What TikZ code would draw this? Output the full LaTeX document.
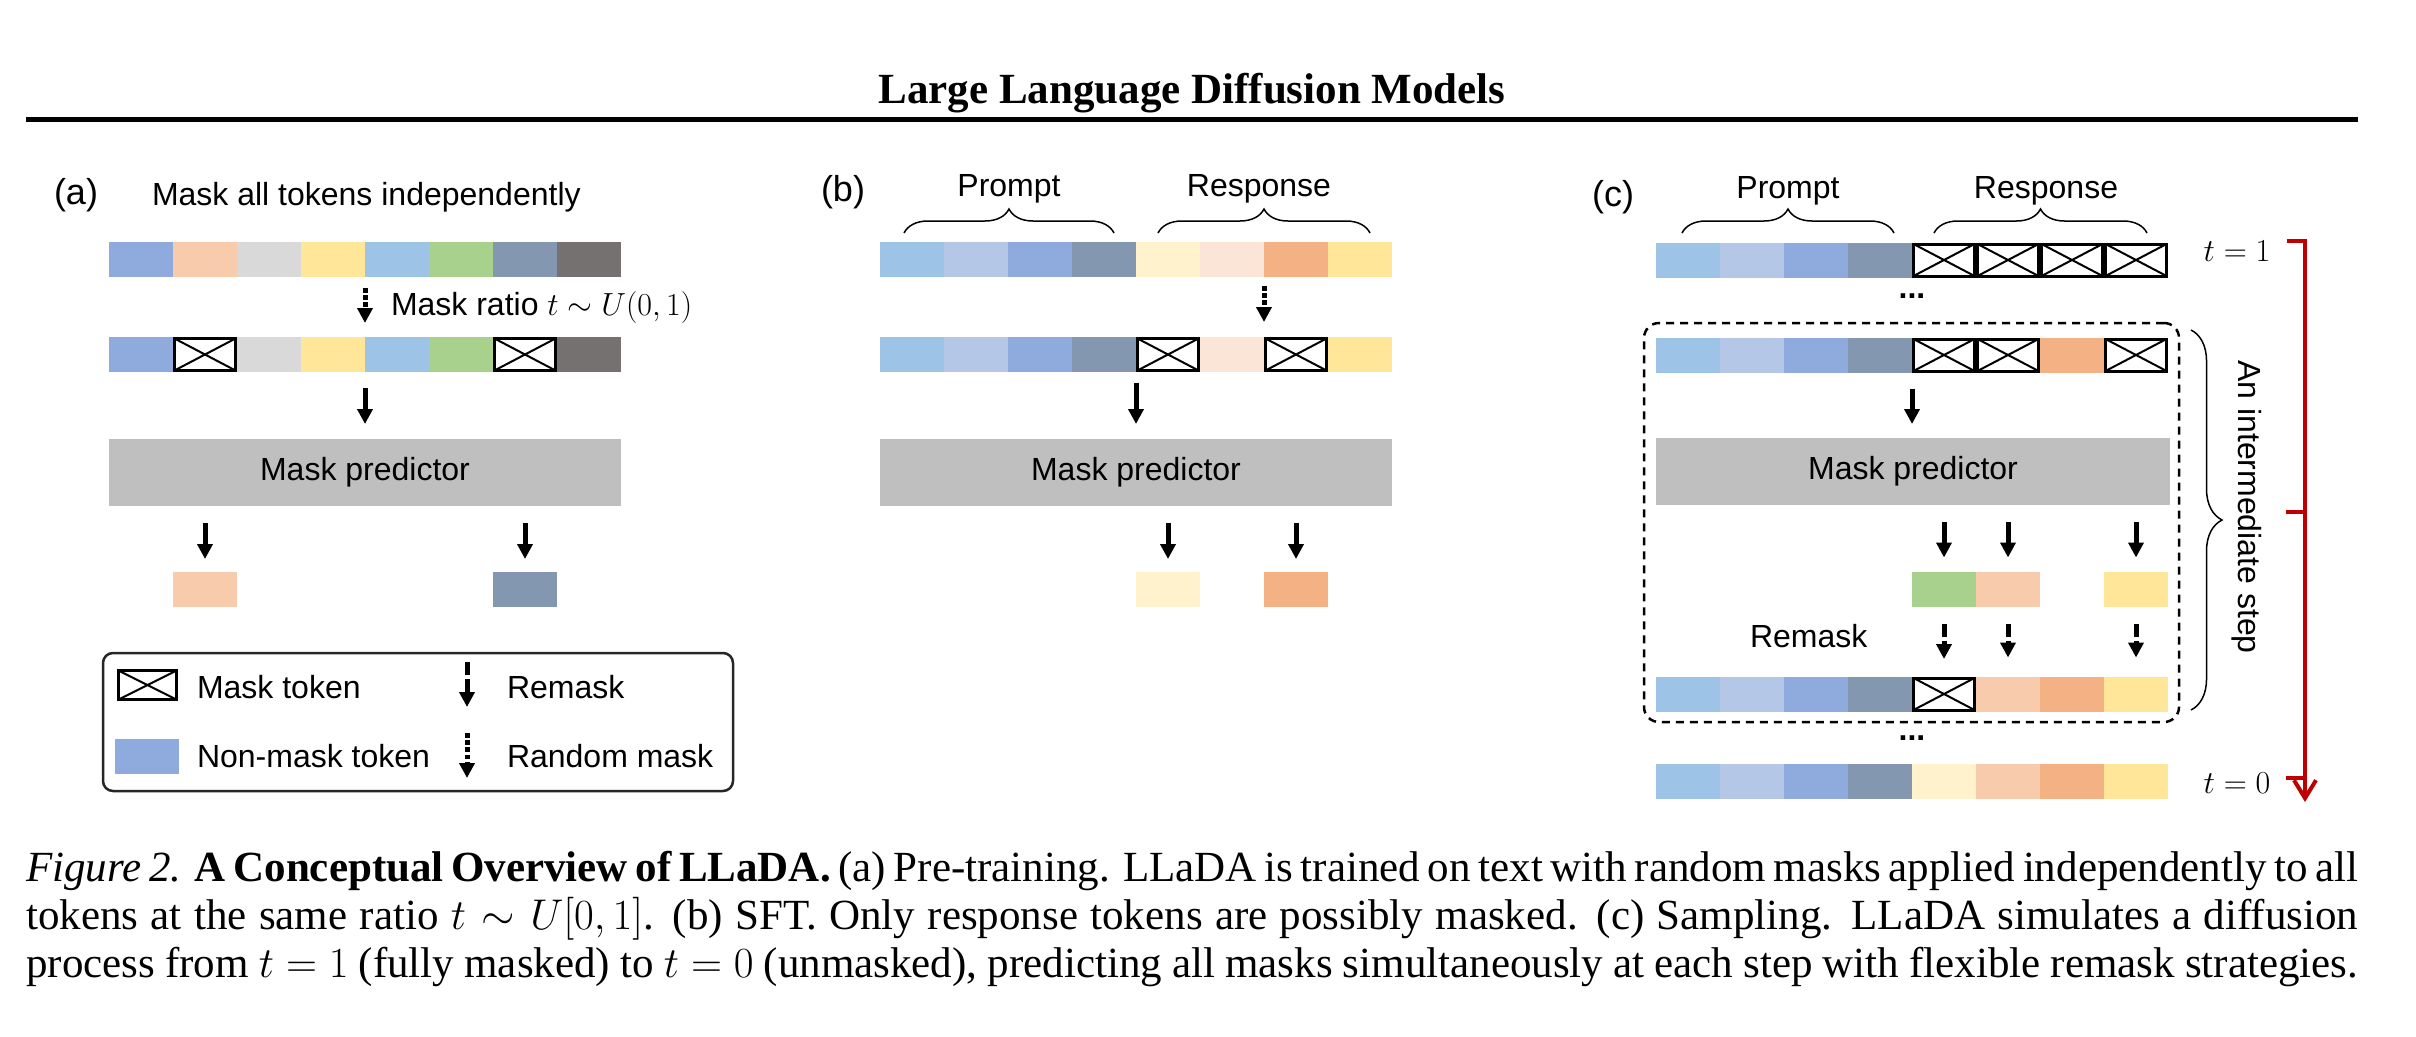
\RequirePackage{fix-cm}
\documentclass[tikz,border=0pt]{standalone}
\usepackage{fontspec}
\setmainfont{Liberation Serif}
\setsansfont{Liberation Sans}
\usetikzlibrary{arrows.meta,decorations.pathreplacing}

\definecolor{cLBlue}{HTML}{9DC3E6}
\definecolor{cPBlue}{HTML}{B4C7E7}
\definecolor{cMBlue}{HTML}{8FAADC}
\definecolor{cSBlue}{HTML}{8497B0}
\definecolor{cCream}{HTML}{FFF2CC}
\definecolor{cBlush}{HTML}{FBE5D6}
\definecolor{cPeach}{HTML}{F8CBAD}
\definecolor{cOrange}{HTML}{F4B183}
\definecolor{cYellow}{HTML}{FFE699}
\definecolor{cLGray}{HTML}{D9D9D9}
\definecolor{cGreen}{HTML}{A9D18E}
\definecolor{cDGray}{HTML}{767171}
\definecolor{cPred}{HTML}{BFBFBF}
\definecolor{cRed}{HTML}{C00000}

\tikzset{
  lbl/.style={font=\sffamily\fontsize{32}{38}\selectfont,inner sep=0pt,outer sep=0pt},
  tok/.style={minimum width=64pt,minimum height=35pt,inner sep=0pt,outer sep=0pt},
  msk/.style={tok,minimum width=61pt,minimum height=32pt,fill=white,draw=black,line width=3pt,
    path picture={\draw[line width=2pt] (path picture bounding box.north west) -- (path picture bounding box.south east)
      (path picture bounding box.south west) -- (path picture bounding box.north east);}},
  pred/.style={lbl,fill=cPred,minimum width=512pt,minimum height=67pt},
  arr/.style={-{Triangle[length=15pt,width=15pt]},line width=5pt},
  dotarr/.style={arr,dash pattern=on 4.5pt off 2.7pt},
  dasharr/.style={arr,dash pattern=on 13pt off 4pt},
  brc/.style={decorate,decoration={brace,amplitude=24pt},line width=1.5pt},
}

\begin{document}
\begin{tikzpicture}[x=1pt,y=-1pt]
\path[fill=white] (0,0) rectangle (2416,1036);

\node[anchor=base,inner sep=0pt,font=\bfseries\fontsize{43}{50}\selectfont] (head) at (1192,103) {Large Language Diffusion Models};
\draw[line width=4.5pt] (26,119.5) -- (2358,119.5);

\begin{scope}[every node/.style={lbl}]
	\node[anchor=base west,font=\sffamily\fontsize{36}{40}\selectfont] (alab) at (54,204) {(a)};
	\node[anchor=base west] (atext) at (152,205) {Mask all tokens independently};
	\node[anchor=base west] (ratio) at (391,315) {Mask ratio $t \sim U(0,1)$};
	\node[anchor=base west,font=\sffamily\fontsize{36}{40}\selectfont] (blab) at (821,201) {(b)};
	\node[anchor=base] (bprompt) at (1009,196) {Prompt};
	\node[anchor=base] (bresp) at (1259,196) {Response};
	\node[anchor=base west,font=\sffamily\fontsize{36}{40}\selectfont] (clab) at (1592,206) {(c)};
	\node[anchor=base] (cprompt) at (1788,198) {Prompt};
	\node[anchor=base] (cresp) at (2046,198) {Response};
	\node (t1) at (2237,251) {$t = 1$};
	\node (t0) at (2237,783) {$t = 0$};
	\node[font=\sffamily\bfseries\fontsize{32}{38}\selectfont] (dots1) at (1912,296) {...};
	\node[font=\sffamily\bfseries\fontsize{32}{38}\selectfont] (dots2) at (1912,738) {...};
	\node[anchor=base west] (remask) at (1750,647) {Remask};
	\node[rotate=-90] (steptext) at (2247,507) {An intermediate step};
\end{scope}

% (a)
\node[tok,fill=cMBlue] (a1) at (141,259.5) {}; \node[tok,fill=cPeach] (a2) at (205,259.5) {};
\node[tok,fill=cLGray] (a3) at (269,259.5) {}; \node[tok,fill=cYellow] (a4) at (333,259.5) {};
\node[tok,fill=cLBlue] (a5) at (397,259.5) {}; \node[tok,fill=cGreen] (a6) at (461,259.5) {};
\node[tok,fill=cSBlue] (a7) at (525,259.5) {}; \node[tok,fill=cDGray] (a8) at (589,259.5) {};

\node[tok,fill=cMBlue] (am1) at (141,354.5) {}; \node[msk] (am2) at (205,354.5) {};
\node[tok,fill=cLGray] (am3) at (269,354.5) {}; \node[tok,fill=cYellow] (am4) at (333,354.5) {};
\node[tok,fill=cLBlue] (am5) at (397,354.5) {}; \node[tok,fill=cGreen] (am6) at (461,354.5) {};
\node[msk] (am7) at (525,354.5) {}; \node[tok,fill=cDGray] (am8) at (589,354.5) {};

\node[pred] (apred) at (365,472.5) {Mask predictor};
\node[tok,fill=cPeach] (ao2) at (205,589.5) {};
\node[tok,fill=cSBlue] (ao7) at (525,589.5) {};

% (b)
\node[tok,fill=cLBlue] (b1) at (912,259.5) {}; \node[tok,fill=cPBlue] (b2) at (976,259.5) {};
\node[tok,fill=cMBlue] (b3) at (1040,259.5) {}; \node[tok,fill=cSBlue] (b4) at (1104,259.5) {};
\node[tok,fill=cCream] (b5) at (1168,259.5) {}; \node[tok,fill=cBlush] (b6) at (1232,259.5) {};
\node[tok,fill=cOrange] (b7) at (1296,259.5) {}; \node[tok,fill=cYellow] (b8) at (1360,259.5) {};

\node[tok,fill=cLBlue] (bm1) at (912,354.5) {}; \node[tok,fill=cPBlue] (bm2) at (976,354.5) {};
\node[tok,fill=cMBlue] (bm3) at (1040,354.5) {}; \node[tok,fill=cSBlue] (bm4) at (1104,354.5) {};
\node[msk] (bm5) at (1168,354.5) {}; \node[tok,fill=cBlush] (bm6) at (1232,354.5) {};
\node[msk] (bm7) at (1296,354.5) {}; \node[tok,fill=cYellow] (bm8) at (1360,354.5) {};

\node[pred] (bpred) at (1136,472.5) {Mask predictor};
\node[tok,fill=cCream] (bo5) at (1168,589.5) {};
\node[tok,fill=cOrange] (bo7) at (1296,589.5) {};

% (c)
\node[tok,fill=cLBlue] (c1) at (1688,260) {}; \node[tok,fill=cPBlue] (c2) at (1752,260) {};
\node[tok,fill=cMBlue] (c3) at (1816,260) {}; \node[tok,fill=cSBlue] (c4) at (1880,260) {};
\node[msk] (c5) at (1944,260) {}; \node[msk] (c6) at (2008,260) {};
\node[msk] (c7) at (2072,260) {}; \node[msk] (c8) at (2136,260) {};

\node[draw,dash pattern=on 8pt off 6pt,line width=2.5pt,rounded corners=15pt,
      minimum width=535pt,minimum height=399pt] (stepbox) at (1911.5,522.5) {};

\node[tok,fill=cLBlue] (cs1) at (1688,355) {}; \node[tok,fill=cPBlue] (cs2) at (1752,355) {};
\node[tok,fill=cMBlue] (cs3) at (1816,355) {}; \node[tok,fill=cSBlue] (cs4) at (1880,355) {};
\node[msk] (cs5) at (1944,355) {}; \node[msk] (cs6) at (2008,355) {};
\node[tok,fill=cOrange] (cs7) at (2072,355) {}; \node[msk] (cs8) at (2136,355) {};

\node[pred,minimum width=514pt] (cpred) at (1913,471.5) {Mask predictor};
\node[tok,fill=cGreen] (co5) at (1944,589) {};
\node[tok,fill=cPeach] (co6) at (2008,589) {};
\node[tok,fill=cYellow] (co8) at (2136,589) {};

\node[tok,fill=cLBlue] (cr1) at (1688,694) {}; \node[tok,fill=cPBlue] (cr2) at (1752,694) {};
\node[tok,fill=cMBlue] (cr3) at (1816,694) {}; \node[tok,fill=cSBlue] (cr4) at (1880,694) {};
\node[msk] (cr5) at (1944,694) {}; \node[tok,fill=cPeach] (cr6) at (2008,694) {};
\node[tok,fill=cOrange] (cr7) at (2072,694) {}; \node[tok,fill=cYellow] (cr8) at (2136,694) {};

\node[tok,fill=cLBlue] (cf1) at (1688,781.5) {}; \node[tok,fill=cPBlue] (cf2) at (1752,781.5) {};
\node[tok,fill=cMBlue] (cf3) at (1816,781.5) {}; \node[tok,fill=cSBlue] (cf4) at (1880,781.5) {};
\node[tok,fill=cCream] (cf5) at (1944,781.5) {}; \node[tok,fill=cPeach] (cf6) at (2008,781.5) {};
\node[tok,fill=cOrange] (cf7) at (2072,781.5) {}; \node[tok,fill=cYellow] (cf8) at (2136,781.5) {};

% legend
\node[draw=black!85,line width=2.5pt,rounded corners=10pt,minimum width=630pt,minimum height=138pt] (legend) at (418,722) {};
\node[msk,minimum width=58pt,minimum height=29pt] (lmask) at (147.5,685) {};
\node[tok,fill=cMBlue] (ltok) at (146.5,756.5) {};
\begin{scope}[every node/.style={lbl,anchor=base west}]
	\node (lmtext) at (197,698) {Mask token};
	\node (lttext) at (197,767) {Non-mask token};
	\node (lrtext) at (507,698) {Remask};
	\node (lxtext) at (507,767) {Random mask};
\end{scope}
\coordinate (lr1) at (467,662); \coordinate (lr2) at (467,707);
\coordinate (lx1) at (467,733); \coordinate (lx2) at (467,778);

% braces
\draw[brc] (904,233) -- (1114,233);
\draw[brc] (1158,233) -- (1370,233);
\draw[brc] (1682,233) -- (1894,233);
\draw[brc] (1934,233) -- (2147,233);
\draw[decorate,decoration={brace,amplitude=31pt},line width=1.5pt] (2191,330) -- (2191,710);

% arrows
\path (a4.south east) edge[dotarr,shorten <=11pt,shorten >=14pt] (am4.north east);
\path (am4.south east) edge[arr,shorten <=16pt,shorten >=15pt] (apred.north -| am4.south east);
\path (apred.south -| ao2) edge[arr,shorten <=17pt,shorten >=13pt] (ao2.north);
\path (apred.south -| ao7) edge[arr,shorten <=17pt,shorten >=13pt] (ao7.north);

\path (b6.south east) edge[dotarr,shorten <=9pt,shorten >=15pt] (bm6.north east);
\path (bm4.south east) edge[arr,shorten <=11pt,shorten >=15pt] (bpred.north -| bm4.south east);
\path (bpred.south -| bo5) edge[arr,shorten <=17pt,shorten >=13pt] (bo5.north);
\path (bpred.south -| bo7) edge[arr,shorten <=17pt,shorten >=13pt] (bo7.north);

\path (cs4.south east) edge[arr,shorten <=16pt,shorten >=14pt] (cpred.north -| cs4.south east);
\path (cpred.south -| co5) edge[arr,shorten <=17pt,shorten >=14pt] (co5.north);
\path (cpred.south -| co6) edge[arr,shorten <=17pt,shorten >=14pt] (co6.north);
\path (cpred.south -| co8) edge[arr,shorten <=17pt,shorten >=14pt] (co8.north);
\path (co5.south) edge[dasharr,shorten <=17pt,shorten >=19pt] (cr5.north);
\path (co6.south) edge[dasharr,shorten <=17pt,shorten >=19pt] (cr6.north);
\path (co8.south) edge[dasharr,shorten <=17pt,shorten >=19pt] (cr8.north);

\path (lr1) edge[dasharr] (lr2);
\path (lx1) edge[dotarr] (lx2);

% time axis
\coordinate (rtop) at (2305,241); \coordinate (rmid) at (2305,512); \coordinate (rbot) at (2305,802);
\coordinate (tk1) at (2287,241); \coordinate (tk2) at (2286,512); \coordinate (tk3) at (2286,778);
\draw[cRed,line width=4pt,-{Straight Barb[length=18pt,width=22pt]}] (tk1) -- (rtop) -- (rbot);
\draw[cRed,line width=4pt] (tk2) -- (rmid);
\draw[cRed,line width=4pt] (tk3) -- (rtop |- tk3);

% caption
\node[anchor=north west,inner sep=0pt,text width=2332pt,align=justify,font=\fontsize{43}{47.8}\selectfont] (caption) at (26,851)
{\textit{Figure 2.} \textbf{A Conceptual Overview of LLaDA.} (a) Pre-training. LLaDA is trained on text with random masks applied independently to all\linebreak
tokens at the same ratio $t \sim U[0,1]$. (b) SFT. Only response tokens are possibly masked. (c) Sampling. LLaDA simulates a diffusion\linebreak
process from $t = 1$ (fully masked) to $t = 0$ (unmasked), predicting all masks simultaneously at each step with flexible remask strategies.\parfillskip=0pt\par};
\end{tikzpicture}
\end{document}
